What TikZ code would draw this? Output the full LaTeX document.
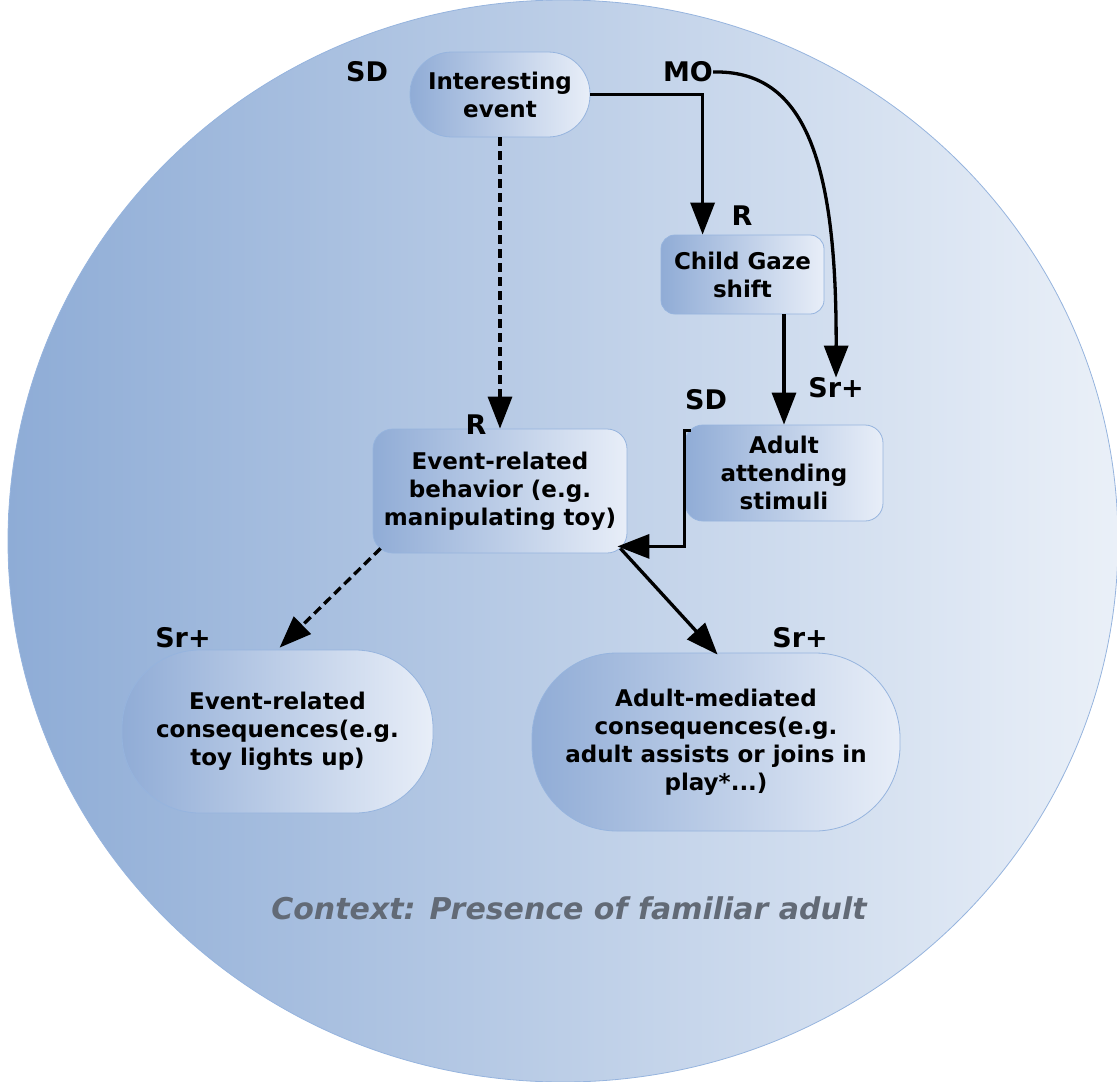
\documentclass[tikz,border=0pt]{standalone}
\usepackage{fontspec}
\setmainfont{DejaVu Sans}
\usetikzlibrary{arrows.meta,calc}
\definecolor{cl}{RGB}{142,172,214}
\definecolor{cr}{RGB}{234,240,248}
\definecolor{gl}{RGB}{144,172,214}
\definecolor{gr}{RGB}{232,238,248}
\definecolor{boxline}{RGB}{150,180,222}
\definecolor{ctxgray}{RGB}{98,106,118}
\begin{document}
\begin{tikzpicture}[x=1pt,y=-1pt,
  box/.style={draw=boxline, line width=0.8pt, left color=gl, right color=gr, align=center, inner sep=0pt, font=\bfseries\fontsize{23}{28}\selectfont},
  lbl/.style={font=\bfseries\fontsize{27}{30}\selectfont, inner sep=0pt},
  arr/.style={line width=3.3pt, -{Triangle[length=32pt,width=24pt]}},
  darr/.style={arr, dash pattern=on 9pt off 5pt},
]
\useasboundingbox (0,0) rectangle (1117,1082);
\shade[left color=cl, right color=cr, draw=boxline, line width=0.8pt] (563,541) ellipse [x radius=555pt, y radius=541pt];

\node[box, minimum width=180pt, minimum height=85pt, rounded corners=42pt] (ie) at (500,94.5) {Interesting\\event};
\node[box, minimum width=163pt, minimum height=79pt, rounded corners=14pt] (cg) at (742.5,274.5) {Child Gaze\\shift};
\node[box, minimum width=198pt, minimum height=96pt, rounded corners=18pt] (aa) at (784,473) {Adult\\attending\\stimuli};
\node[box, minimum width=254pt, minimum height=124pt, rounded corners=20pt] (eb) at (500,491) {Event-related\\behavior (e.g.\\manipulating toy)};
\node[box, minimum width=311pt, minimum height=163pt, rounded corners=78pt] (ec) at (277.5,731.5) {Event-related\\consequences(e.g.\\toy lights up)};
\node[box, minimum width=368pt, minimum height=178pt, rounded corners=85pt] (am) at (716,742) {Adult-mediated\\consequences(e.g.\\adult assists or joins in\\play*...)};

\node[lbl] (sd1) at (367,72) {SD};
\node[lbl] (mo) at (688,72) {MO};
\node[lbl] (r1) at (742,216) {R};
\node[lbl] (srp1) at (836,388) {Sr+};
\node[lbl] (sd2) at (706,400) {SD};
\node[lbl] (r2) at (476,425) {R};
\node[lbl] (srp2) at (183,638) {Sr+};
\node[lbl] (srp3) at (800,638) {Sr+};

\node[font=\bfseries\itshape\fontsize{30}{34}\selectfont, text=ctxgray, inner sep=0pt] (ctx) at (569,908) {Context: Presence of familiar adult};

\draw[arr] (ie.east) -| ($(cg.north west)+(42,0)$);
\draw[arr] (mo.east) .. controls (800,70) and (837,150) .. (srp1.north);
\draw[arr] (cg.south -| aa.north) -- (aa.north);
\draw[arr] ($(aa.north west)+(6,6)$) -- ++(-6,0) |- ($(eb.south east)+(-10,-7)$);
\draw[darr] (ie.south) -- (eb.north);
\draw[darr] ($(eb.south west)+(8,-5)$) -- ($(ec.north west)+(158,-2)$);
\draw[arr] ($(eb.south east)+(-7,-5)$) -- ($(am.north west)+(186,2)$);
\end{tikzpicture}
\end{document}
